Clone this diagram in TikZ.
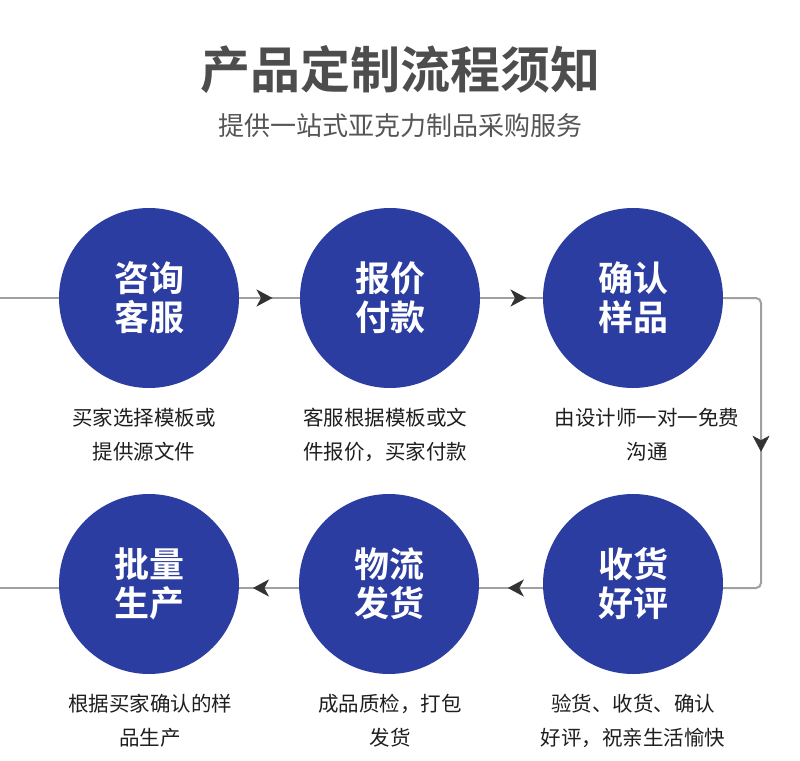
\documentclass[tikz,border=0pt]{standalone}
\usepackage{fontspec}
\setmainfont{Noto Sans CJK SC}[BoldFont={Noto Sans CJK SC Bold}]
\usetikzlibrary{arrows.meta,decorations.markings}
\definecolor{cblue}{RGB}{43,61,160}
\definecolor{linegray}{RGB}{160,160,160}
\definecolor{arrowgray}{RGB}{51,51,51}
\definecolor{titlegray}{RGB}{77,77,77}
\definecolor{subgray}{RGB}{85,85,85}
\definecolor{captext}{RGB}{30,30,30}
\tikzset{
  circ/.style={circle, fill=cblue, draw=none, minimum size=180pt, inner sep=0pt,
    text=white, align=center, font=\bfseries\fontsize{35}{39}\selectfont},
  captionbox/.style={align=center, text=captext, font=\fontsize{20.5}{34}\selectfont, inner sep=0pt},
  flow/.style={draw=linegray, line width=2pt},
  midarrow/.style={postaction={decorate, decoration={markings,
    mark=at position #1 with {\arrow[arrowgray]{Stealth[length=16pt,width=17pt,inset=4.5pt]}}}}}
}
\begin{document}
\begin{tikzpicture}[x=1pt,y=-1pt]
\useasboundingbox (0,0) rectangle (800,760);
% title
\node[text=titlegray, font=\bfseries\fontsize{50}{56}\selectfont] (title) at (400,70) {产品定制流程须知};
\node[text=subgray, font=\fontsize{26}{30}\selectfont] (sub) at (400,126) {提供一站式亚克力制品采购服务};
% coordinates
\coordinate (startT) at (0,298);
\coordinate (cornT) at (761,298);
\coordinate (cornB) at (761,588);
\coordinate (endB) at (0,588);
% circles
\node[circ] (c1) at (149,298) {咨询\\客服};
\node[circ] (c2) at (390,298) {报价\\付款};
\node[circ] (c3) at (633,298) {确认\\样品};
\node[circ] (c4) at (633,584) {收货\\好评};
\node[circ] (c5) at (389,584) {物流\\发货};
\node[circ] (c6) at (149,584) {批量\\生产};
% connectors
\draw[flow] (startT) -- (c1);
\draw[flow, midarrow=0.55] (c1) -- (c2);
\draw[flow, midarrow=0.74] (c2) -- (c3);
\draw[flow, rounded corners=5pt] (c3) -- (cornT) -- (cornB) -- ([yshift=-4pt]c4.east);
\path[midarrow=0.53] (cornT) -- (cornB);
\draw[flow, midarrow=0.55] ([yshift=-4pt]c4.west) -- ([yshift=-4pt]c5.east);
\draw[flow, midarrow=0.77] ([yshift=-4pt]c5.west) -- ([yshift=-4pt]c6.east);
\draw[flow] ([yshift=-4pt]c6.west) -- (endB);
% captions
\node[captionbox] (t1) at (144,435) {买家选择模板或\\提供源文件};
\node[captionbox] (t2) at (385,435) {客服根据模板或文\\件报价，买家付款};
\node[captionbox] (t3) at (647,435) {由设计师一对一免费\\沟通};
\node[captionbox] (t4) at (150,721) {根据买家确认的样\\品生产};
\node[captionbox] (t5) at (390,721) {成品质检，打包\\发货};
\node[captionbox] (t6) at (633,721) {验货、收货、确认\\好评，祝亲生活愉快};
\end{tikzpicture}
\end{document}
